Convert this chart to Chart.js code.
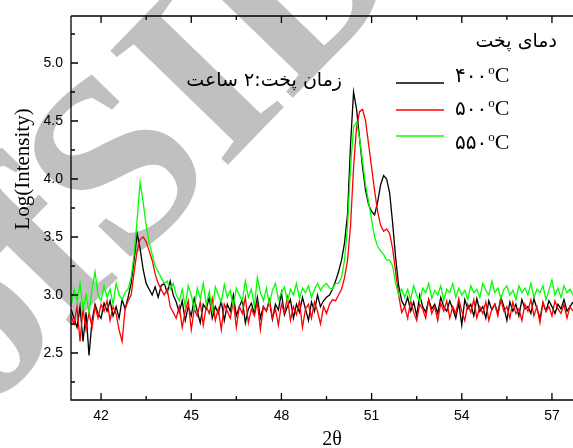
<!DOCTYPE html>
<html>
<head>
<meta charset="utf-8">
<script src="https://cdn.jsdelivr.net/npm/chart.js@4.4.1/dist/chart.umd.min.js"></script>
<style>
  html, body { margin: 0; padding: 0; background: #fff; overflow: hidden; }
  #wrap { width: 573px; height: 448px; }
</style>
</head>
<body>
<div id="wrap"><canvas id="xrd" width="573" height="448"></canvas></div>
<script>
// 2-theta grid: 41.0 .. 57.7 in 0.1 steps
const thetaStart = 41.0;
const thetaStep = 0.1;

// 400 C (black)
const black = [
  2.88, 2.8, 2.72, 2.9, 2.6, 2.85, 2.48, 2.78, 2.92, 2.84, 2.8, 2.93, 2.86, 2.95, 2.82, 2.9, 2.8, 2.96, 2.88, 2.98, 3.1,
  3.3, 3.53, 3.4, 3.22, 3.1, 3.05, 3.0, 3.07, 2.98, 3.08, 3.1, 3.02, 3.12, 3.0, 2.94,
  2.85, 2.95, 2.78, 2.9, 2.82, 2.97, 2.86, 2.76, 2.92, 2.88,
  2.98, 2.8, 2.9, 2.84, 2.95, 2.78, 2.92, 2.86, 3.0, 2.82,
  2.9, 2.96, 2.76, 2.88, 2.93, 2.84, 2.98, 2.8, 2.9, 2.86,
  2.95, 2.79, 2.92, 2.87, 3.02, 2.83, 2.9, 2.96, 2.8, 2.92,
  2.85, 2.98, 2.88, 2.78, 2.94, 2.86, 3.0, 2.9, 2.95, 2.98, 3.0,
  3.05, 3.12, 3.2, 3.3, 3.45, 3.7, 4.3, 4.75, 4.6, 4.35, 4.1, 3.9, 3.78, 3.72, 3.69, 3.8, 3.95, 4.03, 4.0, 3.88, 3.62, 3.32, 3.08, 2.95, 2.9,
  2.98, 2.86, 2.94, 2.82, 3.0, 2.9, 2.85, 2.96, 2.88, 2.92,
  2.84, 2.98, 2.9, 2.86, 2.95, 2.88, 2.8, 2.93, 2.74, 2.96,
  2.88, 2.92, 2.82, 2.97, 2.86, 2.9, 2.8, 2.95, 2.87, 2.92,
  2.84, 2.98, 2.9, 2.78, 2.94, 2.86, 2.92, 2.82, 2.96, 2.88,
  2.9, 2.84, 2.97, 2.88, 2.8, 2.93, 2.86, 2.95, 2.9, 2.84,
  2.92, 2.88, 2.96, 2.86, 2.9, 2.94
];

// 500 C (red)
const red = [
  2.82, 2.75, 2.9, 2.6, 2.88, 2.7, 2.85, 2.72, 2.9, 2.8, 2.92, 2.86, 2.95, 2.78, 2.9, 2.84, 2.7, 2.6, 2.88, 2.95, 3.0,
  3.2, 3.38, 3.48, 3.5, 3.46, 3.38, 3.3, 3.18, 3.1, 3.05, 3.0, 3.05, 2.9, 2.85, 2.8,
  2.9, 2.72, 2.86, 2.95, 2.7, 2.88, 2.82, 2.94, 2.74, 2.9,
  2.84, 2.97, 2.78, 2.88, 2.7, 2.92, 2.86, 2.8, 2.95, 2.72,
  2.9, 2.84, 2.98, 2.76, 2.88, 2.82, 2.94, 2.7, 2.9, 2.86,
  2.96, 2.8, 2.88, 2.74, 2.92, 2.85, 2.98, 2.78, 2.9, 2.83,
  2.95, 2.72, 2.88, 2.92, 2.8, 2.94, 2.86, 2.75, 2.9, 2.84,
  2.92, 2.96,
  2.95, 3.0, 3.05, 3.15, 3.3, 3.6, 4.1, 4.45, 4.58, 4.6, 4.5, 4.3, 4.1, 3.9, 3.72, 3.6, 3.55, 3.57, 3.53, 3.4, 3.2, 3.0, 2.85, 2.9,
  2.8, 2.95, 2.85, 2.78, 2.92, 2.88, 2.8, 2.96, 2.84, 2.9,
  2.78, 2.93, 2.86, 2.95, 2.8, 2.9, 2.84, 2.97, 2.86, 2.78,
  2.92, 2.85, 2.96, 2.8, 2.9, 2.84, 2.94, 2.78, 2.88, 2.92,
  2.82, 2.96, 2.86, 2.9, 2.8, 2.94, 2.84, 2.88, 2.78, 2.92,
  2.86, 2.96, 2.82, 2.9, 2.76, 2.94, 2.86, 2.9, 2.82, 2.95,
  2.88, 2.84, 2.92, 2.8, 2.9, 2.86
];

// 550 C (green)
const green = [
  2.9, 3.05, 2.95, 3.1, 2.88, 3.0, 2.85, 3.05, 3.2, 3.0, 2.95, 3.08, 2.98, 3.05, 2.92, 3.1, 3.0, 2.96, 3.02, 3.05, 3.15,
  3.35, 3.65, 3.97, 3.8, 3.6, 3.45, 3.35, 3.25, 3.2, 3.15, 3.1, 3.12, 3.05, 3.1, 3.0,
  2.95, 3.05, 2.9, 3.08, 3.0, 2.88, 3.06, 2.97, 3.1, 2.92,
  3.03, 2.86, 3.07, 3.0, 2.94, 3.09, 2.98, 3.04, 2.9, 3.06,
  3.0, 2.95, 3.12, 2.98, 3.05, 2.9, 3.15, 3.02, 2.95, 3.06,
  2.92, 3.04, 3.1, 2.96, 3.02, 3.07, 2.94, 3.05, 3.0, 3.1,
  2.97, 3.06, 3.02, 3.08, 2.98, 3.05, 3.1, 3.04, 3.08, 3.1, 3.06,
  3.05, 3.1, 3.1, 3.15, 3.3, 3.6, 4.1, 4.45, 4.49, 4.35, 4.15, 3.95, 3.8, 3.65, 3.5, 3.42, 3.38, 3.35, 3.3, 3.3, 3.25, 3.1, 3.0, 3.05, 2.98,
  3.05, 2.96, 3.08, 3.0, 2.94, 3.06, 3.02, 3.1, 2.97, 3.04,
  3.0, 3.08, 2.95, 3.05, 3.02, 3.1, 2.98, 3.06, 3.0, 3.04,
  2.96, 3.08, 3.02, 3.05, 2.98, 3.1, 3.04, 3.0, 3.12, 3.02,
  3.06, 2.97, 3.05, 3.08, 3.0, 3.04, 2.96, 3.08, 3.02, 3.06,
  3.0, 3.1, 2.98, 3.05, 3.02, 3.08, 2.96, 3.04, 3.13, 3.0,
  3.06, 2.98, 3.08, 3.02, 3.05, 3.0
];

const xMajor = [42, 45, 48, 51, 54, 57];
const xMinor = [43.5, 46.5, 49.5, 52.5, 55.5];
const yMajor = [2.5, 3.0, 3.5, 4.0, 4.5, 5.0];
const yMinor = [2.25, 2.75, 3.25, 3.75, 4.25, 4.75, 5.25];

const seriesNames = ['۴۰۰', '۵۰۰', '۵۵۰'];
const seriesColors = ['#000000', '#ff0000', '#00ff00'];

const toPoints = (arr) => arr.map((v, i) => ({ x: +(thetaStart + i * thetaStep).toFixed(1), y: v }));

const serif = '"Liberation Serif", "Times New Roman", "DejaVu Serif", serif';
const sans = '"Liberation Sans", Arial, sans-serif';
const persian = '"DejaVu Sans", sans-serif';

const watermark = {
  id: 'watermark',
  beforeDraw(chart) {
    const ctx = chart.ctx;
    ctx.save();
    ctx.fillStyle = 'rgb(192,192,192)';
    ctx.font = 'bold 250px ' + serif;
    ctx.translate(-20, 420);
    ctx.rotate(-0.8);
    ctx.fillText('ofSID', 0, 0);
    ctx.restore();
  },
};

const frame = {
  id: 'frame',
  afterDraw(chart) {
    const { ctx, chartArea: a, scales: { x, y } } = chart;
    ctx.save();
    ctx.strokeStyle = '#000';
    ctx.lineWidth = 1.3;
    ctx.beginPath();
    ctx.moveTo(a.left, a.top);
    ctx.lineTo(a.left, a.bottom);
    ctx.lineTo(a.right, a.bottom);
    ctx.moveTo(a.left, a.top);
    ctx.lineTo(a.right, a.top);
    xMajor.forEach((v) => {
      const px = x.getPixelForValue(v);
      ctx.moveTo(px, a.bottom); ctx.lineTo(px, a.bottom - 7);
      ctx.moveTo(px, a.top); ctx.lineTo(px, a.top + 7);
    });
    xMinor.forEach((v) => {
      const px = x.getPixelForValue(v);
      ctx.moveTo(px, a.bottom); ctx.lineTo(px, a.bottom - 4);
      ctx.moveTo(px, a.top); ctx.lineTo(px, a.top + 4);
    });
    yMajor.forEach((v) => {
      const py = y.getPixelForValue(v);
      ctx.moveTo(a.left, py); ctx.lineTo(a.left + 7, py);
    });
    yMinor.forEach((v) => {
      const py = y.getPixelForValue(v);
      ctx.moveTo(a.left, py); ctx.lineTo(a.left + 4, py);
    });
    ctx.stroke();

    // axis titles
    ctx.fillStyle = '#000';
    ctx.font = '21px ' + serif;
    ctx.textAlign = 'center';
    ctx.textBaseline = 'middle';
    ctx.save();
    ctx.translate(23, 169);
    ctx.rotate(-Math.PI / 2);
    ctx.fillText('Log(Intensity)', 0, 0);
    ctx.restore();
    ctx.font = '20px ' + serif;
    ctx.fillText('2θ', 332, 440);

    // persian notes, right to left
    ctx.textBaseline = 'alphabetic';
    ctx.direction = 'rtl';
    ctx.textAlign = 'right';
    ctx.font = '19px ' + persian;
    ctx.fillText('زمان پخت:۲ ساعت', 342, 86);
    ctx.fillText('دمای پخت', 557, 47);

    // legend
    ctx.direction = 'ltr';
    ctx.textAlign = 'left';
    const lineY = [83, 110, 136];
    const textY = [82, 115, 149];
    seriesNames.forEach((name, i) => {
      ctx.strokeStyle = seriesColors[i];
      ctx.lineWidth = 1.3;
      ctx.beginPath();
      ctx.moveTo(396, lineY[i]);
      ctx.lineTo(444, lineY[i]);
      ctx.stroke();
      ctx.font = '20px ' + serif + ', ' + persian;
      ctx.fillText(name, 455, textY[i]);
      let cx = 455 + ctx.measureText(name).width + 1;
      ctx.font = '13px ' + serif;
      ctx.fillText('o', cx, textY[i] - 8);
      cx += ctx.measureText('o').width;
      ctx.font = '22px ' + serif;
      ctx.fillText('C', cx, textY[i]);
    });
    ctx.restore();
  },
};

new Chart(document.getElementById('xrd'), {
  type: 'line',
  data: {
    datasets: [
      { label: '400', data: toPoints(black), borderColor: seriesColors[0], order: 3 },
      { label: '500', data: toPoints(red), borderColor: seriesColors[1], order: 2 },
      { label: '550', data: toPoints(green), borderColor: seriesColors[2], order: 1 },
    ],
  },
  options: {
    responsive: false,
    animation: false,
    elements: {
      point: { radius: 0 },
      line: { borderWidth: 1.3, tension: 0 },
    },
    layout: { padding: { top: 16, right: 0, left: 0, bottom: 0 } },
    plugins: { legend: { display: false }, tooltip: { enabled: false } },
    scales: {
      x: {
        type: 'linear',
        min: 41,
        max: 57.7,
        grid: { display: false },
        border: { display: false },
        afterBuildTicks: (scale) => { scale.ticks = xMajor.map((v) => ({ value: v })); },
        afterFit: (scale) => { scale.height = 48; },
        ticks: { color: '#000', font: { family: sans, size: 14 }, padding: 0, maxRotation: 0 },
      },
      y: {
        min: 2.095,
        max: 5.405,
        grid: { display: false },
        border: { display: false },
        afterBuildTicks: (scale) => { scale.ticks = yMajor.map((v) => ({ value: v })); },
        afterFit: (scale) => { scale.width = 71; },
        ticks: {
          color: '#000',
          font: { family: sans, size: 14 },
          padding: 0,
          callback: (v) => v.toFixed(1),
        },
      },
    },
  },
  plugins: [watermark, frame],
});
</script>
</body>
</html>
